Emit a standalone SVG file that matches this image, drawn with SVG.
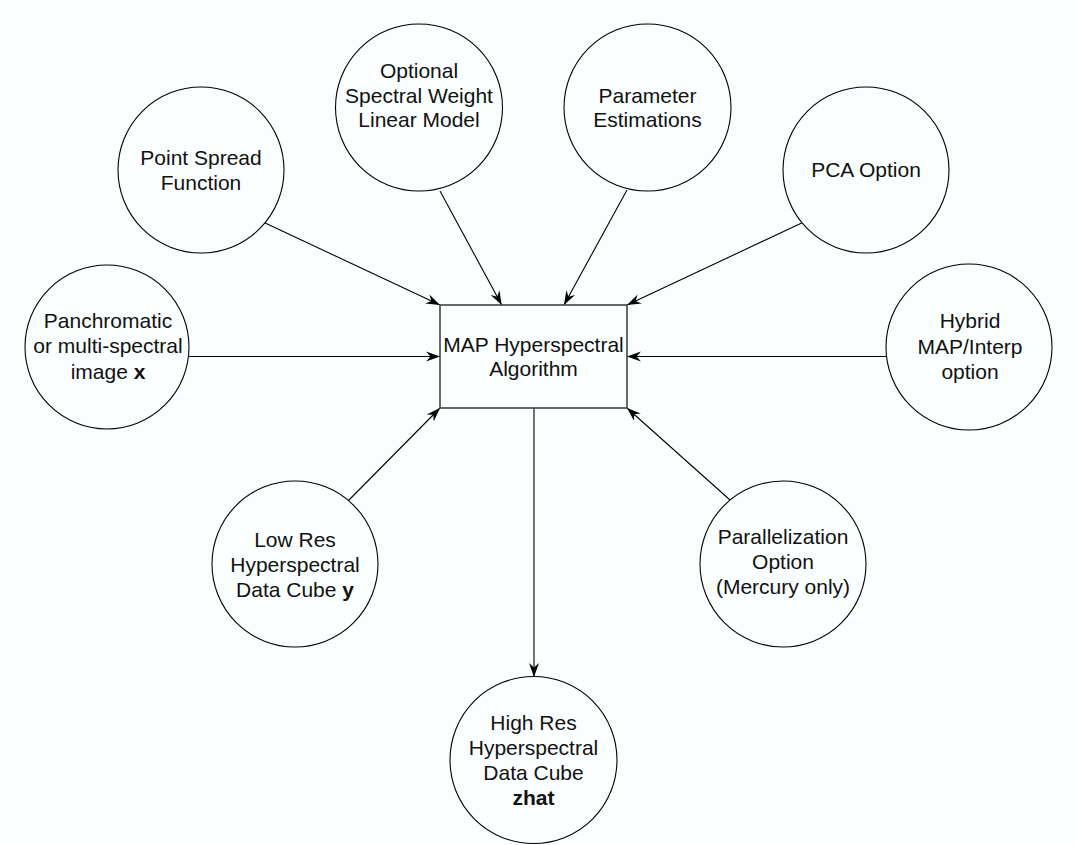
<svg xmlns="http://www.w3.org/2000/svg" width="1075" height="845" viewBox="0 0 1075 845">
<defs>
<marker id="arr" markerUnits="userSpaceOnUse" viewBox="-14 -6 15 12" refX="0" refY="0" markerWidth="15" markerHeight="12" orient="auto">
<path d="M0,0 L-14,-5 L-9.5,0 L-14,5 Z" fill="#000"/>
</marker>
</defs>
<style>
.c{fill:#fbfefe;stroke:#000;stroke-width:1.1}
.r{fill:#fbfefe;stroke:#444;stroke-width:1.6}
.t{font-family:"Liberation Sans",Arial,sans-serif;font-size:21px;fill:#111;text-anchor:middle}
.b{font-weight:bold}
.e{stroke:#000;stroke-width:1.1;fill:none;marker-end:url(#arr)}
</style>
<rect x="0" y="0" width="1075" height="845" fill="#fbfefe"/>
<g id="connectors">
<line class="e" x1="263" y1="222" x2="440" y2="305"/>
<line class="e" x1="440" y1="191" x2="501.7" y2="305"/>
<line class="e" x1="627" y1="190" x2="564" y2="305"/>
<line class="e" x1="801.7" y1="223" x2="627" y2="305"/>
<line class="e" x1="189" y1="356.5" x2="440" y2="356.5"/>
<line class="e" x1="886" y1="356.5" x2="627" y2="356.5"/>
<line class="e" x1="348" y1="501" x2="440" y2="408"/>
<line class="e" x1="730" y1="500" x2="627" y2="408"/>
<line class="e" x1="534" y1="408" x2="534" y2="677"/>
</g>
<g id="map">
<rect class="r" x="440" y="305" width="187" height="103"/>
<text class="t" x="533.5" y="352">MAP Hyperspectral</text>
<text class="t" x="533.5" y="376">Algorithm</text>
</g>
<g id="psf">
<circle class="c" cx="201" cy="170" r="83"/>
<text class="t" x="201" y="165">Point Spread</text>
<text class="t" x="201" y="190">Function</text>
</g>
<g id="optional">
<circle class="c" cx="419" cy="107.5" r="83.5"/>
<text class="t" x="419" y="78">Optional</text>
<text class="t" x="419" y="103">Spectral Weight</text>
<text class="t" x="419" y="127">Linear Model</text>
</g>
<g id="param">
<circle class="c" cx="647.5" cy="107.5" r="83.5"/>
<text class="t" x="647.5" y="103">Parameter</text>
<text class="t" x="647.5" y="127">Estimations</text>
</g>
<g id="pca">
<circle class="c" cx="866" cy="170" r="83"/>
<text class="t" x="866" y="177">PCA Option</text>
</g>
<g id="pan">
<circle class="c" cx="107" cy="347" r="82"/>
<text class="t" x="108" y="328">Panchromatic</text>
<text class="t" x="108" y="353">or multi-spectral</text>
<text class="t" x="108" y="379">image <tspan class="b">x</tspan></text>
</g>
<g id="hybrid">
<circle class="c" cx="969" cy="347" r="83"/>
<text class="t" x="970" y="328">Hybrid</text>
<text class="t" x="970" y="354">MAP/Interp</text>
<text class="t" x="970" y="379">option</text>
</g>
<g id="lowres">
<circle class="c" cx="295" cy="564" r="83"/>
<text class="t" x="295" y="547">Low Res</text>
<text class="t" x="295" y="572">Hyperspectral</text>
<text class="t" x="295" y="597">Data Cube <tspan class="b">y</tspan></text>
</g>
<g id="parallel">
<circle class="c" cx="783" cy="564" r="83"/>
<text class="t" x="783" y="544">Parallelization</text>
<text class="t" x="783" y="569">Option</text>
<text class="t" x="783" y="594">(Mercury only)</text>
</g>
<g id="highres">
<circle class="c" cx="533.5" cy="760" r="83.5"/>
<text class="t" x="533.5" y="730">High Res</text>
<text class="t" x="533.5" y="755">Hyperspectral</text>
<text class="t" x="533.5" y="780">Data Cube</text>
<text class="t b" x="533.5" y="805">zhat</text>
</g>
</svg>
